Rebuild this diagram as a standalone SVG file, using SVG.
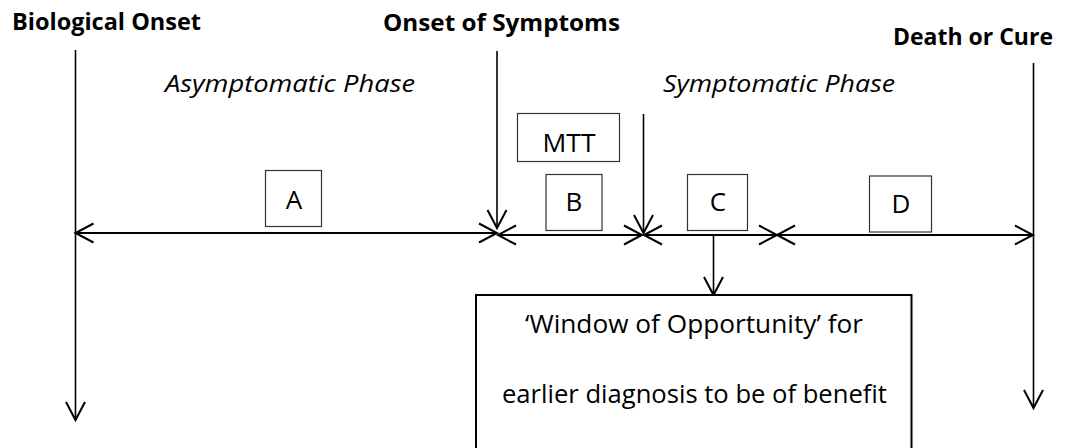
<svg xmlns="http://www.w3.org/2000/svg" width="1070" height="448" viewBox="0 0 1070 448">
  <style>
    text { font-family: "Open Sans", "Noto Sans", "Liberation Sans", sans-serif; fill: #000; }
    .head { font-size: 23.5px; font-weight: 700; }
    .phase { font-size: 24px; font-style: italic; }
    .lbl { font-size: 26px; text-anchor: middle; }
    .body { font-size: 26px; }
    .box { fill: #fff; stroke: #333; stroke-width: 1.2; }
    .win { fill: #fff; stroke: #000; stroke-width: 2; }
    .span { stroke: #000; stroke-width: 2; fill: none; marker-start: url(#open); marker-end: url(#open); }
    .drop { stroke: #000; stroke-width: 1.6; fill: none; marker-end: url(#open); }
  </style>
  <defs>
    <!-- open V-shaped arrowhead used by every connector -->
    <marker id="open" viewBox="0 0 20 20" refX="19" refY="10" markerWidth="20" markerHeight="20" markerUnits="userSpaceOnUse" orient="auto-start-reverse" overflow="visible">
      <path d="M1,0.5 L19,10 L1,19.5" fill="none" stroke="#000" stroke-width="2"/>
    </marker>
  </defs>

  <rect width="1070" height="448" fill="#fff"/>

  <!-- milestone headings -->
  <g id="biological-onset">
    <text class="head" x="12" y="30" textLength="189" lengthAdjust="spacingAndGlyphs">Biological Onset</text>
  </g>
  <g id="onset-of-symptoms">
    <text class="head" x="383" y="31" textLength="237" lengthAdjust="spacingAndGlyphs">Onset of Symptoms</text>
  </g>
  <g id="death-or-cure">
    <text class="head" x="893" y="45" textLength="160" lengthAdjust="spacingAndGlyphs">Death or Cure</text>
  </g>

  <!-- phase captions -->
  <g id="asymptomatic-phase">
    <text class="phase" x="165" y="92" textLength="250" lengthAdjust="spacingAndGlyphs">Asymptomatic Phase</text>
  </g>
  <g id="symptomatic-phase">
    <text class="phase" x="663" y="92" textLength="232" lengthAdjust="spacingAndGlyphs">Symptomatic Phase</text>
  </g>

  <!-- connectors: timeline verticals and interval spans -->
  <g id="connectors">
    <line class="drop" x1="75.5" y1="50" x2="75.5" y2="420"/>
    <line class="drop" x1="497" y1="51" x2="497" y2="228"/>
    <line class="drop" x1="643.5" y1="114" x2="643.5" y2="233"/>
    <line class="drop" x1="1033.5" y1="63" x2="1033.5" y2="408"/>
    <line class="drop" x1="713.5" y1="235" x2="713.5" y2="295"/>

    <line class="span" x1="75.5" y1="233" x2="497" y2="233"/>
    <line class="span" x1="498" y1="235" x2="642" y2="235"/>
    <line class="span" x1="644" y1="235" x2="777" y2="235"/>
    <line class="span" x1="777" y1="235" x2="1033" y2="235"/>
  </g>

  <!-- interval labels -->
  <g id="interval-a">
    <rect class="box" x="265.5" y="170.5" width="56" height="56"/>
    <text class="lbl" x="294" y="209">A</text>
  </g>
  <g id="mtt">
    <rect class="box" x="517.5" y="113.5" width="102" height="48"/>
    <text class="lbl" x="569" y="152" textLength="53" lengthAdjust="spacingAndGlyphs">MTT</text>
  </g>
  <g id="interval-b">
    <rect class="box" x="546" y="174.5" width="56" height="56"/>
    <text class="lbl" x="574" y="211">B</text>
  </g>
  <g id="interval-c">
    <rect class="box" x="687.5" y="174.5" width="60" height="56"/>
    <text class="lbl" x="718" y="211">C</text>
  </g>
  <g id="interval-d">
    <rect class="box" x="869.5" y="176" width="62" height="56"/>
    <text class="lbl" x="901" y="213">D</text>
  </g>

  <!-- window of opportunity -->
  <g id="window-of-opportunity">
    <rect class="win" x="476" y="295" width="435.5" height="170"/>
    <text class="body" x="525" y="333" textLength="338" lengthAdjust="spacingAndGlyphs">‘Window of Opportunity’ for</text>
    <text class="body" x="502" y="403" textLength="385" lengthAdjust="spacingAndGlyphs">earlier diagnosis to be of benefit</text>
  </g>
</svg>
